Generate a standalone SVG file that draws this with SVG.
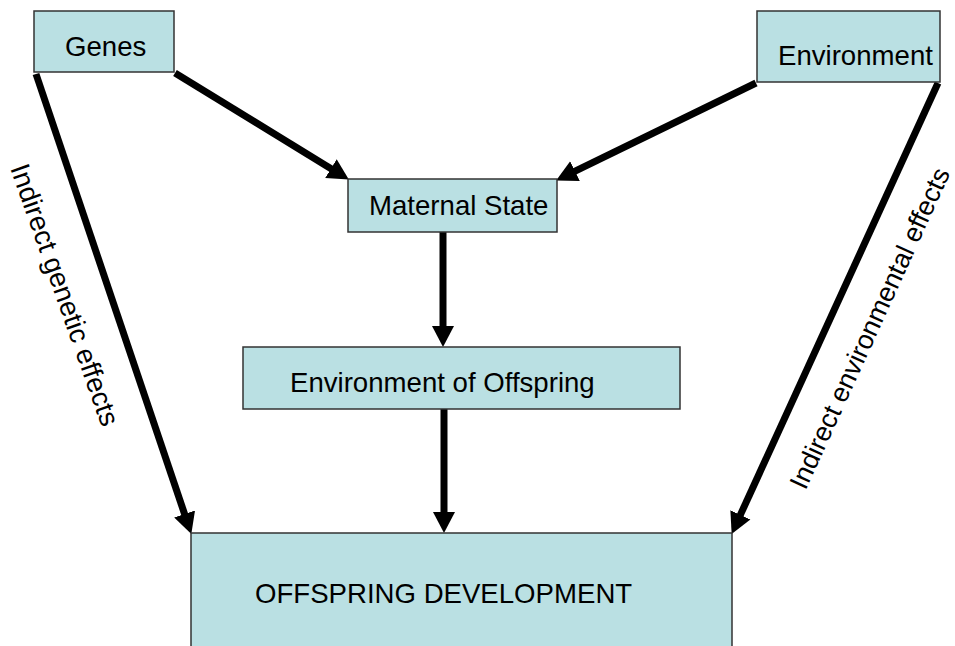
<svg xmlns="http://www.w3.org/2000/svg" width="955" height="646" viewBox="0 0 955 646">
<style>
.box{fill:#BAE0E3;stroke:#333;stroke-width:1.5}
.t{font-family:"Liberation Sans",Arial,sans-serif;font-size:27.6px;fill:#000}
.c{stroke:#000;stroke-width:7;fill:none;marker-end:url(#ah)}
</style>
<defs>
<marker id="ah" markerUnits="userSpaceOnUse" markerWidth="24" markerHeight="24" viewBox="0 -12 24 24" refX="5" refY="0" orient="auto">
<path d="M0,-11 L21,0 L0,11 z" fill="#000"/>
</marker>
</defs>
<rect width="955" height="646" fill="#fff"/>
<g id="connectors">
<line class="c" x1="175" y1="73" x2="335.2" y2="171.2"/>
<line class="c" x1="756" y1="83" x2="570.5" y2="173.4"/>
<line class="c" x1="36" y1="74" x2="186.2" y2="518.8"/>
<line class="c" x1="938" y1="83" x2="738.3" y2="519.4"/>
<line class="c" x1="443" y1="232" x2="443" y2="331"/>
<line class="c" x1="444" y1="409" x2="444" y2="517"/>
</g>
<g id="genes"><rect class="box" x="34" y="11" width="140" height="61"/><text class="t" x="65" y="56">Genes</text></g>
<g id="environment"><rect class="box" x="757" y="11" width="183" height="71"/><text class="t" x="778" y="65">Environment</text></g>
<g id="maternal"><rect class="box" x="348" y="179" width="209" height="53"/><text class="t" x="369" y="215">Maternal State</text></g>
<g id="envoff"><rect class="box" x="243" y="347" width="437" height="62"/><text class="t" x="290" y="392">Environment of Offspring</text></g>
<g id="offdev"><rect class="box" x="191" y="533" width="541" height="120"/><text class="t" x="255" y="603">OFFSPRING DEVELOPMENT</text></g>
<g id="labels">
<text class="t" text-anchor="middle" transform="translate(56,298) rotate(70.5)">Indirect genetic effects</text>
<text class="t" style="font-size:26.8px" text-anchor="middle" transform="translate(878,332) rotate(-65.5)">Indirect environmental effects</text>
</g>
</svg>
